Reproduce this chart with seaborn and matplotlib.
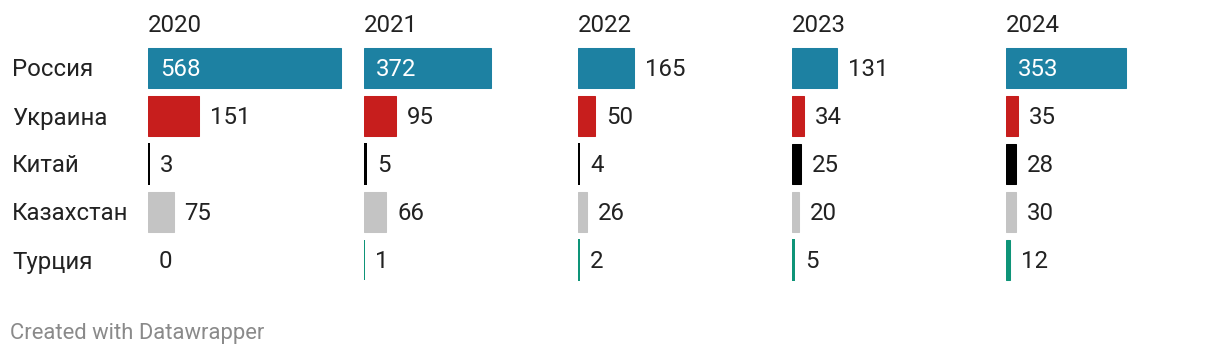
import matplotlib
matplotlib.use("Agg")
import matplotlib.pyplot as plt
import seaborn as sns
import pandas as pd

countries = ["Россия", "Украина", "Китай", "Казахстан", "Турция"]
years = ["2020", "2021", "2022", "2023", "2024"]
v2020 = [568, 151, 3, 75, 0]
v2021 = [372, 95, 5, 66, 1]
v2022 = [165, 50, 4, 26, 2]
v2023 = [131, 34, 25, 20, 5]
v2024 = [353, 35, 28, 30, 12]
colors = ["#1d81a2", "#c71e1d", "#000000", "#c4c4c4", "#0e9478"]
footer = "Created with Datawrapper"

series = [v2020, v2021, v2022, v2023, v2024]

sns.set_theme(style="white")
plt.rcParams["font.family"] = ["Roboto", "DejaVu Sans"]

W, H = 1220, 356
fig = plt.figure(figsize=(W / 100, H / 100), dpi=100)
fig.patch.set_facecolor("white")

text_color = "#222222"
fs = 17.3
xmax = 576
panel_w = 196
starts = [148, 364, 578, 792, 1006]
top, pitch = 44, 48
ax_h = pitch * len(countries)
dy = 2  # px downward nudge for text

for i, (yr, vals) in enumerate(zip(years, series)):
    x0 = starts[i]
    ax = fig.add_axes([x0 / W, (H - top - ax_h) / H, panel_w / W, ax_h / H])
    df = pd.DataFrame({"country": countries, "value": vals})
    sns.barplot(data=df, x="value", y="country", hue="country", palette=colors,
                order=countries, hue_order=countries, legend=False, ax=ax,
                width=40 / 48, saturation=1, orient="h")
    px_per_unit = panel_w / xmax
    for p in ax.patches:
        wpx = p.get_width() * px_per_unit
        if wpx > 0:
            p.set_edgecolor(p.get_facecolor())
            if wpx < 3:
                p.set_linewidth(1.1)
                p.set_antialiased(False)
            else:
                p.set_linewidth(0.75)
        else:
            p.set_linewidth(0)
    ax.set_xlim(0, xmax)
    ax.set_ylim(len(countries) - 0.5, -0.5)
    ax.axis("off")
    yoff = dy / pitch
    for j, v in enumerate(vals):
        if v * px_per_unit > 90:
            ax.text(12 / px_per_unit, j + yoff, str(v), color="white", fontsize=fs,
                    va="center", ha="left")
        else:
            ax.text(v + 11 / px_per_unit, j + yoff, str(v), color=text_color, fontsize=fs,
                    va="center", ha="left", clip_on=False)
    fig.text(x0 / W, 1 - (24 + dy) / H, yr, fontsize=fs, color=text_color,
             va="center", ha="left")

for j, c in enumerate(countries):
    fig.text(12 / W, 1 - (top + 24 + dy + pitch * j) / H, c, fontsize=fs,
             color=text_color, va="center", ha="left")

fig.text(10 / W, 1 - (332 + dy) / H, footer, fontsize=15.8, color="#8a8a8a",
         va="center", ha="left")

fig.savefig("out.png", dpi=100)
